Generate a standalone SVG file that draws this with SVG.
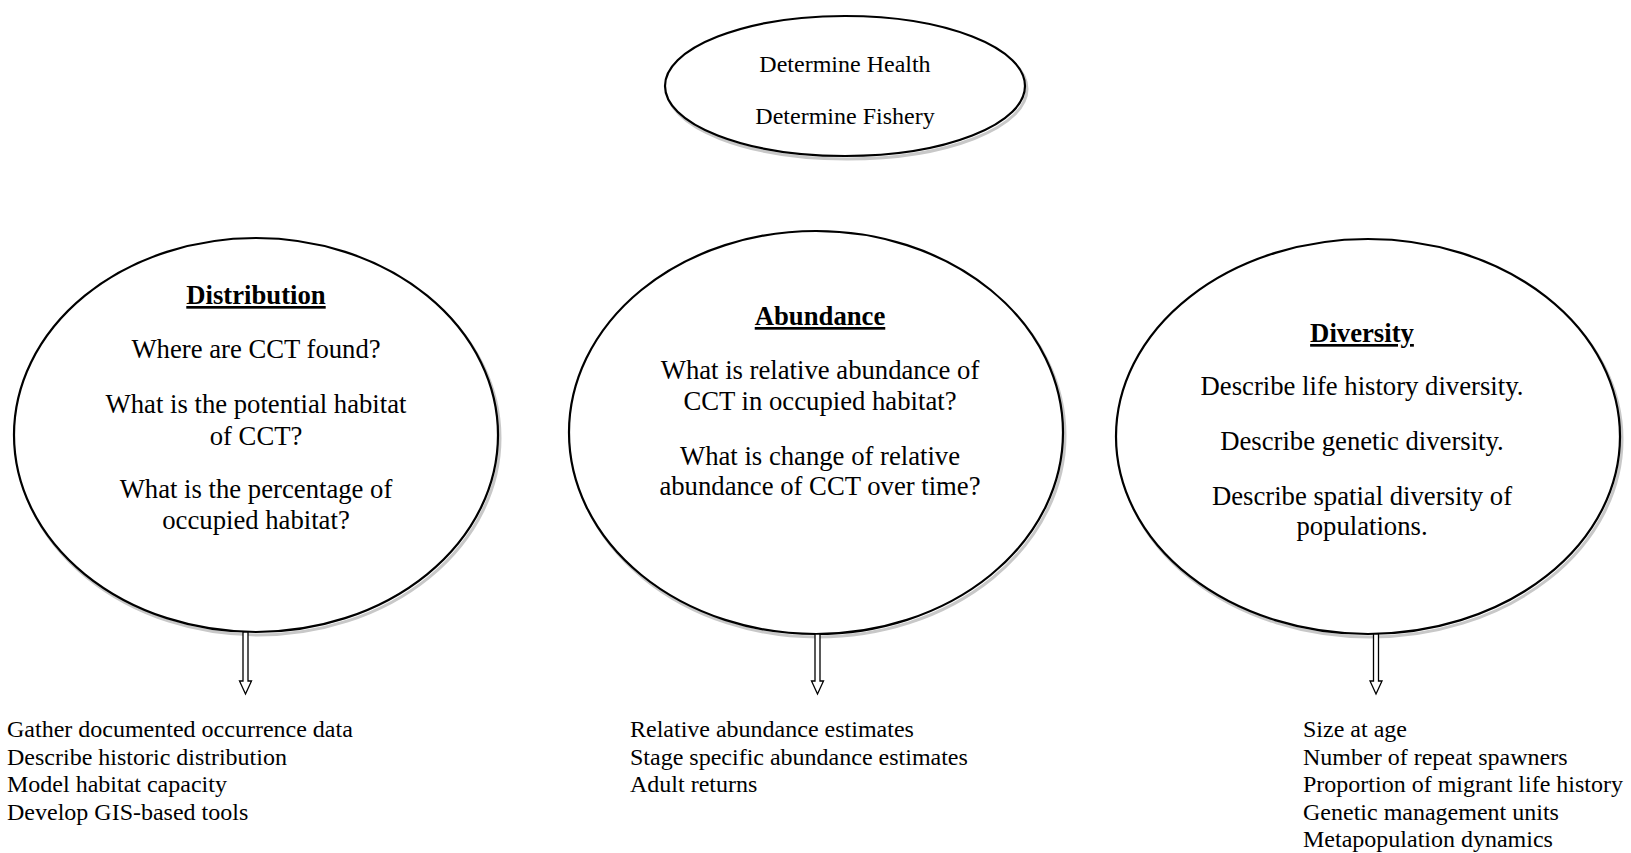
<svg xmlns="http://www.w3.org/2000/svg" width="1631" height="853" viewBox="0 0 1631 853">
<style>
.bg{fill:#ffffff}
.shadow{fill:none;stroke:#c8c8c8;stroke-width:3}
.node{fill:#ffffff;stroke:#000000;stroke-width:2.2}
text{font-family:"Liberation Serif","Times New Roman",serif;fill:#000000}
.top{font-size:24px;text-anchor:middle}
.q{font-size:26.7px;text-anchor:middle}
.h{font-size:26.7px;font-weight:bold;text-anchor:middle;text-decoration:underline}
.list{font-size:24px}
.arrow{fill:#ffffff;stroke:#000000;stroke-width:1.3}
</style>
<rect class="bg" x="0" y="0" width="1631" height="853"/>

<g id="node-top">
<ellipse class="shadow" cx="847" cy="89" rx="180" ry="70"/>
<ellipse class="node" cx="845" cy="86" rx="180" ry="70"/>
<text class="top" x="845" y="72">Determine Health</text>
<text class="top" x="845" y="124">Determine Fishery</text>
</g>

<g id="node-distribution">
<ellipse class="shadow" cx="258" cy="438" rx="242" ry="197"/>
<ellipse class="node" cx="256" cy="435" rx="242" ry="197"/>
<text class="h" x="256" y="304">Distribution</text>
<text class="q" x="256" y="358">Where are CCT found?</text>
<text class="q" x="256" y="413">What is the potential habitat</text>
<text class="q" x="256" y="445">of CCT?</text>
<text class="q" x="256" y="498">What is the percentage of</text>
<text class="q" x="256" y="529">occupied habitat?</text>
</g>

<g id="node-abundance">
<ellipse class="shadow" cx="818" cy="435.5" rx="247" ry="201.5"/>
<ellipse class="node" cx="816" cy="432.5" rx="247" ry="201.5"/>
<text class="h" x="820" y="325">Abundance</text>
<text class="q" x="820" y="379">What is relative abundance of</text>
<text class="q" x="820" y="409.5">CCT in occupied habitat?</text>
<text class="q" x="820" y="464.5">What is change of relative</text>
<text class="q" x="820" y="495">abundance of CCT over time?</text>
</g>

<g id="node-diversity">
<ellipse class="shadow" cx="1370" cy="439.5" rx="252" ry="197.5"/>
<ellipse class="node" cx="1368" cy="436.5" rx="252" ry="197.5"/>
<text class="h" x="1362" y="342">Diversity</text>
<text class="q" x="1362" y="395">Describe life history diversity.</text>
<text class="q" x="1362" y="450">Describe genetic diversity.</text>
<text class="q" x="1362" y="505">Describe spatial diversity of</text>
<text class="q" x="1362" y="535">populations.</text>
</g>

<g id="connectors">
<path class="arrow" d="M243 632 L243 681 L239.5 681 L245.5 694 L251.5 681 L248 681 L248 632 Z"/>
<path class="arrow" d="M815 634 L815 681 L811.5 681 L817.5 694 L823.5 681 L820 681 L820 634 Z"/>
<path class="arrow" d="M1373.5 634 L1373.5 681 L1370 681 L1376 694 L1382 681 L1378.5 681 L1378.5 634 Z"/>
</g>

<g id="list-distribution">
<text class="list" x="7" y="737">Gather documented occurrence data</text>
<text class="list" x="7" y="764.5">Describe historic distribution</text>
<text class="list" x="7" y="792">Model habitat capacity</text>
<text class="list" x="7" y="819.5">Develop GIS-based tools</text>
</g>

<g id="list-abundance">
<text class="list" x="630" y="737">Relative abundance estimates</text>
<text class="list" x="630" y="764.5">Stage specific abundance estimates</text>
<text class="list" x="630" y="792">Adult returns</text>
</g>

<g id="list-diversity">
<text class="list" x="1303" y="737">Size at age</text>
<text class="list" x="1303" y="764.5">Number of repeat spawners</text>
<text class="list" x="1303" y="792">Proportion of migrant life history</text>
<text class="list" x="1303" y="819.5">Genetic management units</text>
<text class="list" x="1303" y="847">Metapopulation dynamics</text>
</g>
</svg>
